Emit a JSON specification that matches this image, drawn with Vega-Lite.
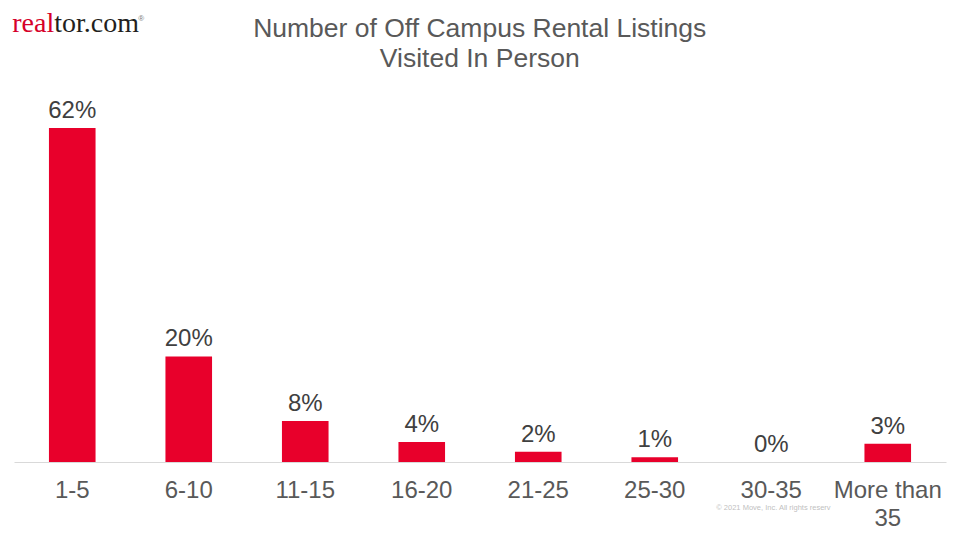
{
  "$schema": "https://vega.github.io/schema/vega-lite/v6.json",
  "width": 932,
  "height": 377,
  "autosize": "none",
  "padding": {"left": 14, "top": 85, "right": 14, "bottom": 78},
  "background": "white",
  "config": {"view": {"stroke": null}, "font": "Liberation Sans"},
  "datasets": {
    "bars": [
      {"range": "1-5", "pct": 0.62},
      {"range": "6-10", "pct": 0.196},
      {"range": "11-15", "pct": 0.076},
      {"range": "16-20", "pct": 0.037},
      {"range": "21-25", "pct": 0.019},
      {"range": "25-30", "pct": 0.009},
      {"range": "30-35", "pct": 0.0},
      {"range": "More than 35", "pct": 0.034}
    ]
  },
  "data": {"name": "bars"},
  "layer": [
    {
      "mark": {"type": "bar", "color": "#E8002B"},
      "encoding": {
        "x": {
          "field": "range",
          "type": "nominal",
          "sort": null,
          "scale": {"paddingInner": 0.6, "paddingOuter": 0.3},
          "axis": {
            "title": null,
            "labelAngle": 0,
            "labelFontSize": 24,
            "labelColor": "#595959",
            "labelFont": "Liberation Sans",
            "labelPadding": 16,
            "labelLineHeight": 28,
            "labelExpr": "datum.value == 'More than 35' ? ['More than', '35'] : datum.value",
            "ticks": false,
            "domainColor": "#D9D9D9",
            "domainWidth": 1
          }
        },
        "y": {
          "field": "pct",
          "type": "quantitative",
          "scale": {"domain": [0, 0.7], "nice": false, "zero": true},
          "axis": null
        }
      }
    },
    {
      "mark": {"type": "text", "fontSize": 24, "color": "#404040", "baseline": "alphabetic", "dy": -10, "font": "Liberation Sans"},
      "encoding": {
        "x": {"field": "range", "type": "nominal", "sort": null},
        "y": {"field": "pct", "type": "quantitative"},
        "text": {"field": "pct", "type": "quantitative", "format": ".0%"}
      }
    },
    {
      "data": {"values": [{"t": "Number of Off Campus Rental Listings\nVisited In Person"}]},
      "mark": {"type": "text", "font": "Liberation Sans", "fontSize": 26.5, "color": "#595959", "align": "center", "baseline": "alphabetic", "lineBreak": "\n", "lineHeight": 30, "dx": 58},
      "encoding": {
        "x": {"datum": "16-20", "type": "nominal"},
        "y": {"datum": 0.789, "type": "quantitative"},
        "text": {"field": "t"}
      }
    },
    {
      "data": {"values": [{"t": "real"}]},
      "mark": {"type": "text", "font": "Liberation Serif", "fontSize": 28, "color": "#D6002A", "align": "right", "baseline": "alphabetic", "dx": -18},
      "encoding": {
        "x": {"datum": "1-5", "type": "nominal"},
        "y": {"datum": 0.798, "type": "quantitative"},
        "text": {"field": "t"}
      }
    },
    {
      "data": {"values": [{"t": "tor.com"}]},
      "mark": {"type": "text", "font": "Liberation Serif", "fontSize": 28, "color": "#231F20", "align": "left", "baseline": "alphabetic", "dx": -18},
      "encoding": {
        "x": {"datum": "1-5", "type": "nominal"},
        "y": {"datum": 0.798, "type": "quantitative"},
        "text": {"field": "t"}
      }
    },
    {
      "data": {"values": [{"t": "®"}]},
      "mark": {"type": "text", "font": "Liberation Sans", "fontSize": 8, "color": "#777777", "align": "left", "baseline": "alphabetic", "dx": 66},
      "encoding": {
        "x": {"datum": "1-5", "type": "nominal"},
        "y": {"datum": 0.819, "type": "quantitative"},
        "text": {"field": "t"}
      }
    },
    {
      "data": {"values": [{"t": "© 2021 Move, Inc. All rights reserv"}]},
      "mark": {"type": "text", "font": "Liberation Sans", "fontSize": 7.5, "color": "#BFBFBF", "align": "left", "baseline": "alphabetic", "dx": -55},
      "encoding": {
        "x": {"datum": "30-35", "type": "nominal"},
        "y": {"datum": -0.089, "type": "quantitative"},
        "text": {"field": "t"}
      }
    }
  ]
}
